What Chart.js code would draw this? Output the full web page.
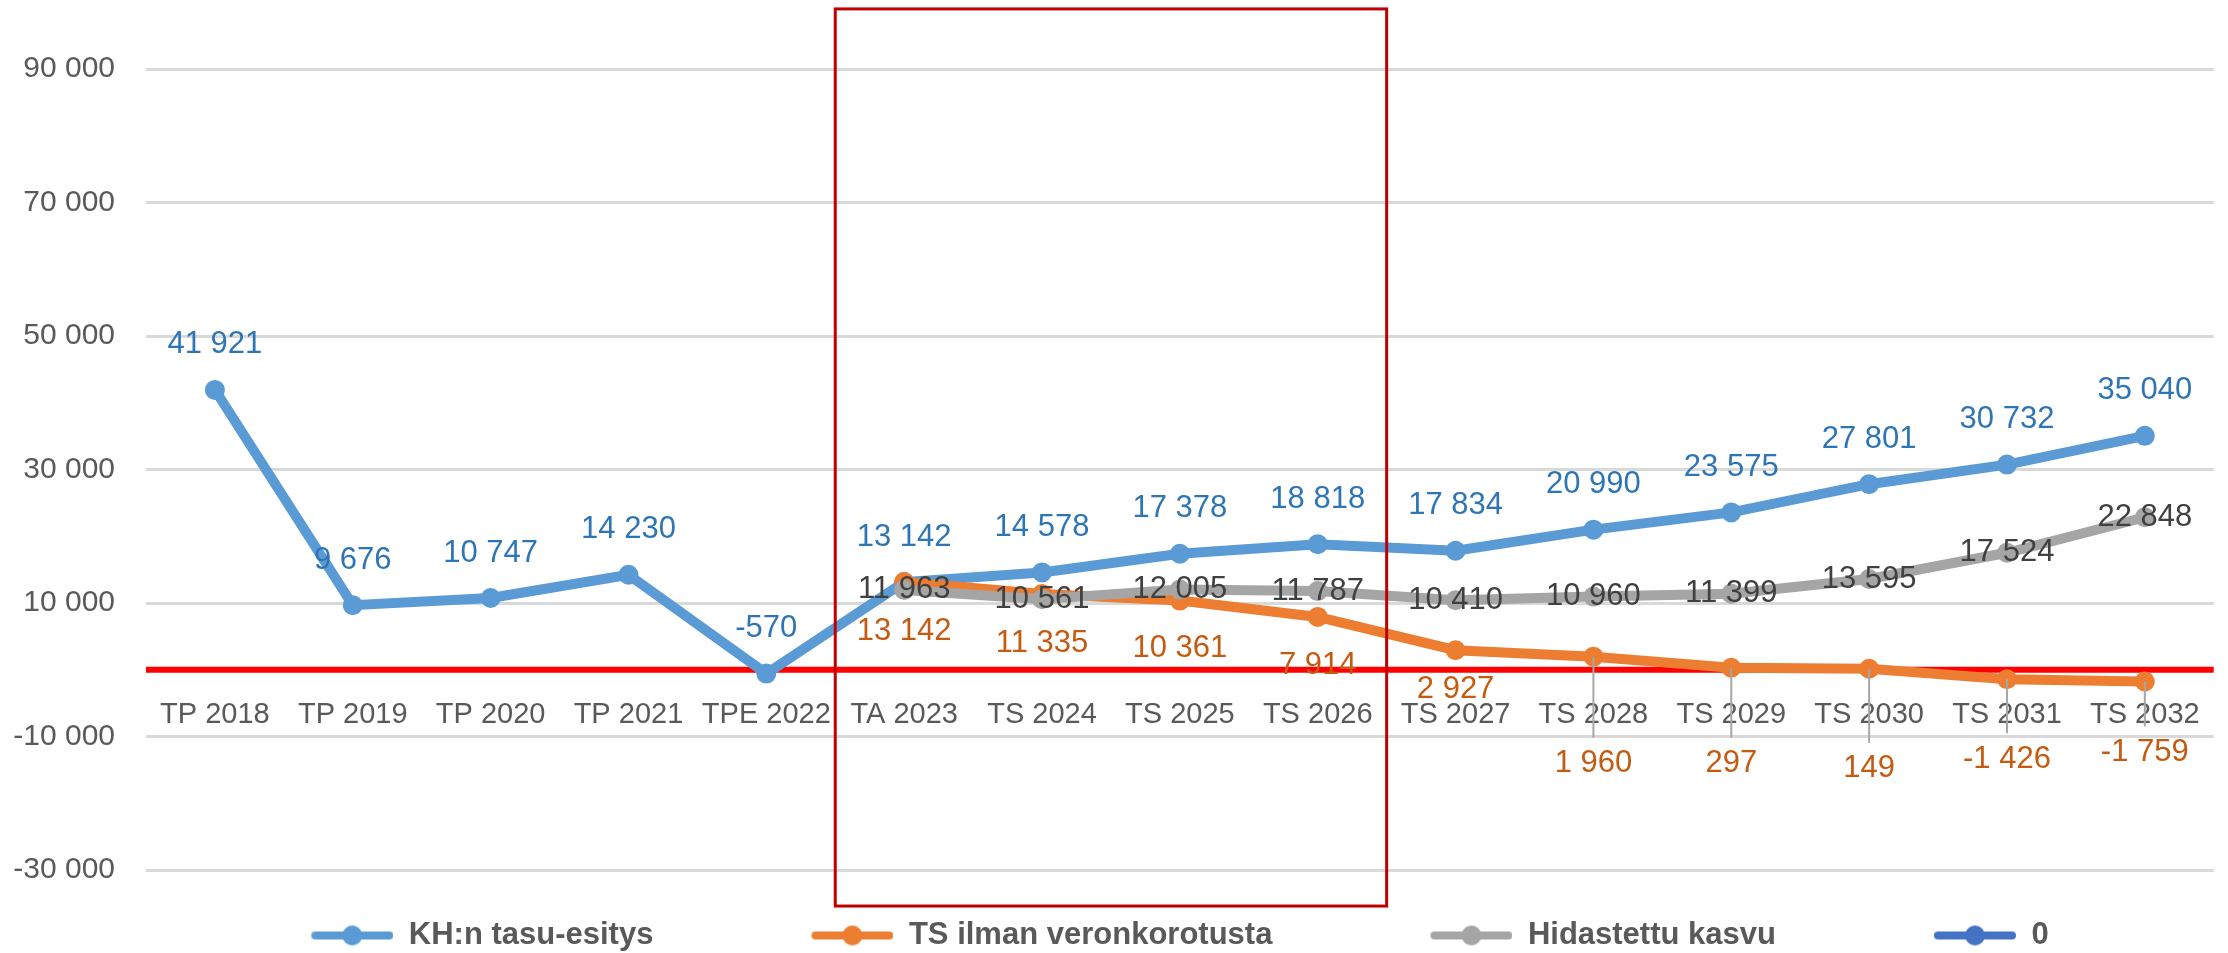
<!DOCTYPE html>
<html>
<head>
<meta charset="utf-8">
<script src="https://cdn.jsdelivr.net/npm/chart.js@4.4.0/dist/chart.umd.min.js"></script>
<style>
    html, body { margin: 0; padding: 0; background: #fff; }
</style>
</head>
<body>
<canvas id="line-chart" width="2228" height="953"></canvas>
<script>
const categories = ['TP 2018', 'TP 2019', 'TP 2020', 'TP 2021', 'TPE 2022', 'TA 2023', 'TS 2024', 'TS 2025', 'TS 2026', 'TS 2027', 'TS 2028', 'TS 2029', 'TS 2030', 'TS 2031', 'TS 2032']
const tasuEsitys = [41921, 9676, 10747, 14230, -570, 13142, 14578, 17378, 18818, 17834, 20990, 23575, 27801, 30732, 35040]
const ilmanVeronkorotusta = [null, null, null, null, null, 13142, 11335, 10361, 7914, 2927, 1960, 297, 149, -1426, -1759]
const hidastettuKasvu = [null, null, null, null, null, 11963, 10561, 12005, 11787, 10410, 10960, 11399, 13595, 17524, 22848]
const nolla = [0, 0, 0, 0, 0, 0, 0, 0, 0, 0, 0, 0, 0, 0, 0]
const yMin = -30000
const yMax = 90000
const yStep = 20000
// highlighted range (TA 2023 .. TS 2026)
const focusFrom = 'TA 2023'
const focusTo = 'TS 2026'

// label offsets from the point, px (style only)
const orangeLabelDy = [0, 0, 0, 0, 0, 49, 49, 48, 49, 39, 107, 96, 100, 80, 71]

const fmt = v => (v < 0 ? '-' : '') + String(Math.abs(v)).replace(/\B(?=(\d{3})+(?!\d))/g, ' ')

Chart.defaults.font.family = "'Liberation Sans', Arial, sans-serif"

const legendIcon = color => {
    const c = document.createElement('canvas')
    c.width = 190
    c.height = 26
    const g = c.getContext('2d')
    g.strokeStyle = color
    g.lineWidth = 8
    g.lineCap = 'round'
    g.beginPath()
    g.moveTo(c.width - 78, 13)
    g.lineTo(c.width - 4, 13)
    g.stroke()
    g.fillStyle = color
    g.beginPath()
    g.arc(c.width - 41, 13, 10, 0, Math.PI * 2)
    g.fill()
    return c
}

const decorPlugin = {
    id: 'decor',
    afterLayout(chart) {
        // nudge the legend row a little to the right, like the original
        chart.legend.left += 14
        chart.legend.right += 14
    },
    beforeDatasetsDraw(chart) {
        const {ctx, chartArea, scales} = chart
        const y0 = scales.y.getPixelForValue(0)
        ctx.save()
        ctx.strokeStyle = '#FF0000'
        ctx.lineWidth = 6
        ctx.beginPath()
        ctx.moveTo(chartArea.left, y0)
        ctx.lineTo(chartArea.right, y0)
        ctx.stroke()
        ctx.restore()
    },
    afterDatasetsDraw(chart) {
        const ctx = chart.ctx
        ctx.save()
        ctx.font = "31px 'Liberation Sans', Arial, sans-serif"
        ctx.textAlign = 'center'
        ctx.textBaseline = 'middle'
        chart.data.datasets.forEach((ds, i) => {
            if (!ds.labelColor) return
            const meta = chart.getDatasetMeta(i)
            meta.data.forEach((pt, j) => {
                const v = ds.data[j]
                if (v === null || v === undefined) return
                const dy = Array.isArray(ds.labelDy) ? ds.labelDy[j] : ds.labelDy
                if (dy > 60) {
                    ctx.strokeStyle = '#A6A6A6'
                    ctx.lineWidth = 2
                    ctx.beginPath()
                    ctx.moveTo(pt.x, pt.y)
                    ctx.lineTo(pt.x, pt.y + dy - 26)
                    ctx.stroke()
                }
                ctx.fillStyle = ds.labelColor
                ctx.fillText(fmt(v), pt.x, pt.y + dy)
            })
        })
        ctx.restore()
    },
    afterDraw(chart) {
        const {ctx, scales} = chart
        const x1 = scales.x.getPixelForValue(categories.indexOf(focusFrom) - 0.5)
        const x2 = scales.x.getPixelForValue(categories.indexOf(focusTo) + 0.5)
        const y1 = scales.y.getPixelForValue(99000)
        const y2 = scales.y.getPixelForValue(-35400)
        ctx.save()
        ctx.strokeStyle = '#C00000'
        ctx.lineWidth = 3
        ctx.strokeRect(x1, y1, x2 - x1, y2 - y1)
        ctx.restore()
    }
}

const lineSet = (label, data, color, labelColor, labelDy, order) => ({
    label: label,
    data: data,
    borderColor: color,
    backgroundColor: color,
    legendColor: color,
    pointBackgroundColor: color,
    pointBorderColor: color,
    borderWidth: 10,
    pointRadius: 9,
    pointBorderWidth: 2,
    tension: 0,
    labelColor: labelColor,
    labelDy: labelDy,
    order: order
})

new Chart(document.getElementById('line-chart'), {
    type: 'line',
    data: {
        labels: categories,
        datasets: [
            lineSet('KH:n tasu-esitys', tasuEsitys, '#5B9BD5', '#2E75B6', -45, 3),
            lineSet('TS ilman veronkorotusta', ilmanVeronkorotusta, '#ED7D31', '#C55A11', orangeLabelDy, 2),
            lineSet('Hidastettu kasvu', hidastettuKasvu, '#A5A5A5', '#404040', 0, 1),
            {
                label: '0',
                data: nolla,
                legendColor: '#4472C4',
                borderColor: 'rgba(0,0,0,0)',
                backgroundColor: 'rgba(0,0,0,0)',
                borderWidth: 0,
                pointRadius: 0,
                order: 4
            }
        ]
    },
    options: {
        responsive: false,
        animation: false,
        layout: {
            padding: { left: 0, right: 4, top: 69, bottom: -8 }
        },
        plugins: {
            tooltip: { enabled: false },
            legend: {
                position: 'bottom',
                labels: {
                    usePointStyle: true,
                    pointStyleWidth: 190,
                    padding: 50,
                    color: '#595959',
                    font: { size: 31, weight: 'bold' },
                    generateLabels: chart => chart.data.datasets.map((ds, i) => ({
                        text: ds.label,
                        fillStyle: ds.legendColor,
                        strokeStyle: ds.legendColor,
                        lineWidth: 0,
                        pointStyle: legendIcon(ds.legendColor),
                        hidden: false,
                        datasetIndex: i,
                        fontColor: '#595959'
                    }))
                }
            }
        },
        scales: {
            x: {
                type: 'category',
                position: { y: 0 },
                offset: true,
                grid: { display: false, drawTicks: false },
                border: { display: false },
                ticks: {
                    color: '#595959',
                    font: { size: 29 },
                    padding: 28,
                    maxRotation: 0,
                    autoSkip: false
                },
                afterFit: s => { s.height = 0 }
            },
            y: {
                min: yMin,
                max: yMax,
                grid: { color: '#D9D9D9', lineWidth: 3, drawTicks: false },
                border: { display: false },
                ticks: {
                    stepSize: yStep,
                    color: '#595959',
                    font: { size: 30 },
                    padding: 31,
                    callback: v => fmt(v)
                },
                afterFit: s => { s.width = 146 }
            }
        }
    },
    plugins: [decorPlugin]
})
</script>
</body>
</html>
